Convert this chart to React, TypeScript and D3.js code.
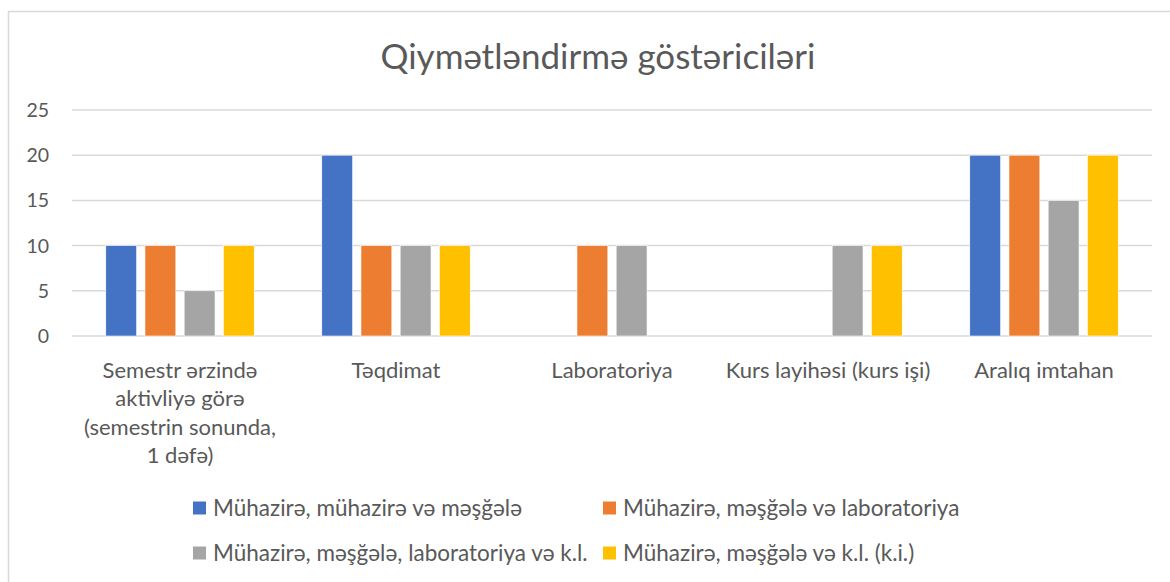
import React from 'react';
import * as d3 from 'd3';

const categories = [
  'Semestr ərzində\naktivliyə görə\n(semestrin sonunda,\n1 dəfə)',
  'Təqdimat',
  'Laboratoriya',
  'Kurs layihəsi (kurs işi)',
  'Aralıq imtahan',
];

const seriesNames = [
  'Mühazirə, mühazirə və məşğələ',
  'Mühazirə, məşğələ və laboratoriya',
  'Mühazirə, məşğələ, laboratoriya və k.l.',
  'Mühazirə, məşğələ və k.l. (k.i.)',
];

const lectureOnly = [10, 20, 0, 0, 20];
const lectureLab = [10, 10, 10, 0, 20];
const lectureLabKl = [5, 10, 10, 10, 15];
const lectureKl = [10, 10, 0, 10, 20];

const yTicks = [0, 5, 10, 15, 20, 25];

const COLORS = ['#4472C4', '#ED7D31', '#A5A5A5', '#FFC000'];
const FONT = 'Lato, "Open Sans", sans-serif';
const TEXT = '#595959';
const GRID = '#d9d9d9';

const W = 1170;
const H = 582;
const plot = { left: 72, right: 1152, top: 110, bottom: 336 };

const App = () => {
  const series = [lectureOnly, lectureLab, lectureLabKl, lectureKl];

  const x = d3.scaleBand<number>()
    .domain(d3.range(categories.length))
    .range([plot.left, plot.right]);

  const y = d3.scaleLinear().domain([0, 25]).range([plot.bottom, plot.top]);

  // excel-style: gap width 219%, overlap -27%
  const barW = x.bandwidth() / (4 + 3 * 0.27 + 2.19);
  const step = barW * 1.27;
  const groupW = barW * 4 + barW * 0.27 * 3;

  const legendCols = [193, 603];
  const legendRows = [508, 553];

  return (
    <svg width={W} height={H} style={{ position: 'absolute', left: 0, top: 0, background: '#fff' }}>
      <rect x={8.5} y={11.5} width={W + 20} height={H + 20} fill="#fff" stroke={GRID} strokeWidth={1.5} />

      <text x={598} y={69} textAnchor="middle" fontFamily={FONT} fontSize={35} fill={TEXT}>
        Qiymətləndirmə göstəriciləri
      </text>

      {yTicks.map(t => (
        <g key={t}>
          <line x1={plot.left} x2={plot.right} y1={y(t)} y2={y(t)} stroke={GRID} strokeWidth={1.5} />
          <text x={49} y={y(t)} dy="0.36em" textAnchor="end" fontFamily={FONT} fontSize={19.5} fill={TEXT}>
            {t}
          </text>
        </g>
      ))}

      {series.map((vals, si) =>
        vals.map((v, ci) => {
          if (!v) return null;
          const cx = (x(ci) as number) + x.bandwidth() / 2;
          const bx = cx - groupW / 2 + si * step;
          return (
            <rect
              key={`${si}-${ci}`}
              x={bx}
              y={y(v)}
              width={barW}
              height={y(0) - y(v)}
              fill={COLORS[si]}
              stroke="#fff"
              strokeWidth={0.6}
            />
          );
        })
      )}

      {categories.map((c, ci) => {
        const cx = (x(ci) as number) + x.bandwidth() / 2;
        return (
          <text key={ci} textAnchor="middle" fontFamily={FONT} fontSize={22} fill={TEXT}>
            {c.split('\n').map((line, li) => (
              <tspan key={li} x={cx} y={370 + li * 28.5} dy="0.36em">{line}</tspan>
            ))}
          </text>
        );
      })}

      {seriesNames.map((name, i) => {
        const lx = legendCols[i % 2];
        const ly = legendRows[Math.floor(i / 2)];
        return (
          <g key={name}>
            <rect x={lx} y={ly - 6.5} width={13} height={13} fill={COLORS[i]} />
            <text x={lx + 20} y={ly} dy="0.36em" fontFamily={FONT} fontSize={22.5} fill={TEXT}>
              {name}
            </text>
          </g>
        );
      })}
    </svg>
  );
};

export default App;
